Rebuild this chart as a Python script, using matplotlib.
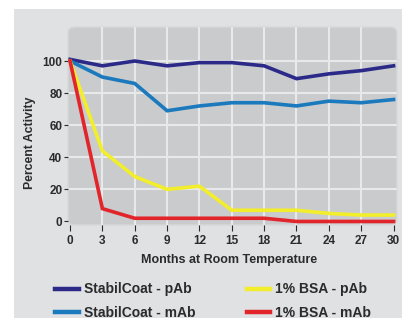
"""Percent activity of antibodies stored at room temperature."""

import matplotlib

matplotlib.use("Agg")
import matplotlib.pyplot as plt
from matplotlib.lines import Line2D
from matplotlib.patches import FancyBboxPatch, Rectangle

plt.rcParams["font.family"] = ["Liberation Sans", "DejaVu Sans"]
plt.rcParams["font.weight"] = "bold"

months = [0, 3, 6, 9, 12, 15, 18, 21, 24, 27, 30]
stabilcoat_pab = [101, 97, 100, 97, 99, 99, 97, 89, 92, 94, 97]
stabilcoat_mab = [100, 90, 86, 69, 72, 74, 74, 72, 75, 74, 76]
bsa_pab = [100, 44, 28, 20, 22, 7, 7, 7, 5, 4, 4]
bsa_mab = [100, 8, 2, 2, 2, 2, 2, 0, 0, 0, 0]

series = [
    ("StabilCoat - pAb", stabilcoat_pab, "#2c2a88"),
    ("StabilCoat - mAb", stabilcoat_mab, "#1b79bd"),
    ("1% BSA - pAb", bsa_pab, "#f3ee2c"),
    ("1% BSA - mAb", bsa_mab, "#e2242b"),
]

W, H = 408, 318
TEXT = "#2b2b2b"

fig = plt.figure(figsize=(W / 100, H / 100), dpi=100)
fig.patch.set_facecolor("white")

# outer grey panel
fig.patches.append(Rectangle((14 / W, 0), (402 - 14) / W, (H - 9) / H,
                             transform=fig.transFigure, facecolor="#dfe1e3",
                             edgecolor="none", zorder=0))

left, right, top, bottom = 68, 397, 27, 225
# rounded plot background
fig.patches.append(FancyBboxPatch((left / W, 1 - bottom / H), (right - left) / W,
                                  (bottom - top) / H,
                                  boxstyle="round,pad=0,rounding_size=0.018",
                                  transform=fig.transFigure, facecolor="#c9cbcd",
                                  edgecolor="#d6d8da", linewidth=1.0, zorder=0.5))

ax = fig.add_axes([left / W, 1 - bottom / H, (right - left) / W, (bottom - top) / H])
ax.set_zorder(2)
ax.patch.set_visible(False)
for spine in ax.spines.values():
    spine.set_visible(False)

ax.set_xlim(-0.19, 30.32)
ax.set_ylim(-2.2, 121.2)
ax.set_xticks(months)
ax.set_yticks([0, 20, 40, 60, 80, 100])

for x in months[1:-1]:
    ax.axvline(x, color="#e8e9ea", lw=1.5, zorder=1)
for y in [20, 40, 60, 80, 100]:
    ax.axhline(y, color="#e8e9ea", lw=1.5, zorder=1)

for label, values, color in series:
    ax.plot(months, values, color=color, lw=2.6, solid_joinstyle="miter", zorder=3)

ax.tick_params(axis="both", colors=TEXT, labelsize=8.5, width=0.8)
ax.tick_params(axis="y", length=3, pad=1)
ax.tick_params(axis="x", length=4, pad=3)
for lbl in ax.get_xticklabels() + ax.get_yticklabels():
    lbl.set_fontweight("bold")

fig.text(30 / W, 1 - 143 / H, "Percent Activity", rotation=90, ha="center",
         va="center", fontsize=8.8, fontweight="bold", color=TEXT)
fig.text(229 / W, 1 - 260 / H, "Months at Room Temperature", ha="center",
         va="center", fontsize=9, fontweight="bold", color=TEXT)

handles = [Line2D([], [], color=c, lw=3.2) for _, _, c in series]
labels = [s[0] for s in series]
fig.legend(handles, labels, loc="center", bbox_to_anchor=(213 / W, 1 - 301 / H),
           ncol=2, frameon=False, handlelength=1.7, handletextpad=0.35,
           columnspacing=3.7, labelspacing=0.65, labelcolor=TEXT,
           prop={"size": 10, "weight": "bold"})

fig.savefig("out.png", dpi=100, facecolor=fig.get_facecolor())
